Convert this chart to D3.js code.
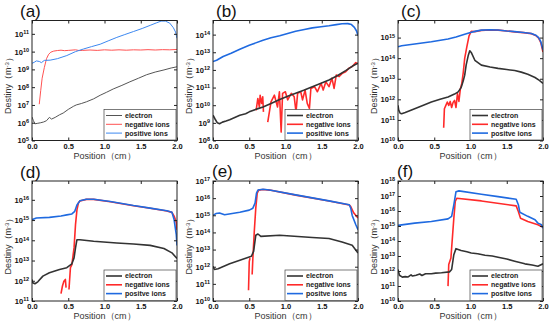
<!DOCTYPE html>
<html>
<head>
<meta charset="utf-8">
<script src="https://cdn.jsdelivr.net/npm/d3@7"></script>
<style>
  body { margin: 0; background: #fff; }
  text { font-family: "Liberation Sans", Arial, sans-serif; }
</style>
</head>
<body>
<script>
// x ticks shared by all six panels (cm)
const positionTicks = [0, 0.5, 1.0, 1.5, 2.0];

// ---- (a) ----
const aExps = [5, 6, 7, 8, 9, 10, 11];
const aNames = ["electron", "negative ions", "positive ions"];
const aElectron = [[0,2.1e6],[0.02,1.3e6],[0.04,8.7e5],[0.08,9.3e5],[0.12,1.0e6],[0.16,1.1e6],[0.2,1.3e6],[0.24,2.0e6],[0.27,1.6e6],[0.32,2.0e6],[0.38,2.8e6],[0.43,3.5e6],[0.5,5.6e6],[0.57,8.3e6],[0.61,1.0e7],[0.68,1.2e7],[0.75,1.5e7],[0.85,2.2e7],[0.94,3.5e7],[1.03,5.2e7],[1.12,7.9e7],[1.24,1.26e8],[1.35,2.0e8],[1.47,3.2e8],[1.58,5.0e8],[1.7,7.1e8],[1.82,9.3e8],[1.92,1.2e9],[2.0,1.4e9]];
const aNegative = [[0.1,1.1e7],[0.12,6.3e7],[0.14,3.2e8],[0.17,1.26e9],[0.2,4.0e9],[0.23,7.1e9],[0.26,9.3e9],[0.3,1.07e10],[0.35,1.15e10],[0.4,1.2e10],[0.45,1.13e10],[0.5,1.17e10],[0.6,1.26e10],[0.65,1.15e10],[0.7,1.17e10],[0.8,1.23e10],[0.9,1.17e10],[1.0,1.26e10],[1.1,1.2e10],[1.2,1.26e10],[1.3,1.2e10],[1.4,1.26e10],[1.5,1.23e10],[1.6,1.29e10],[1.7,1.23e10],[1.8,1.29e10],[1.9,1.26e10],[2.0,1.32e10]];
const aPositive = [[0,2.2e9],[0.03,2.5e9],[0.06,3.0e9],[0.1,2.8e9],[0.13,2.4e9],[0.17,3.2e9],[0.25,3.3e9],[0.35,4.0e9],[0.48,6.0e9],[0.6,1.0e10],[0.71,1.4e10],[0.82,1.9e10],[0.94,2.6e10],[1.05,4.0e10],[1.17,6.3e10],[1.28,9.1e10],[1.4,1.35e11],[1.52,2.0e11],[1.63,3.0e11],[1.72,4.2e11],[1.78,5.2e11],[1.84,5.2e11],[1.9,4.0e11],[1.95,2.2e11],[1.98,1.26e11],[2.0,5.6e10]];

// ---- (b) ----
const bExps = [8, 9, 10, 11, 12, 13, 14];
const bNames = ["electron", "negative ions", "positive ions"];
const bElectron = [[0,2.7e9],[0.03,1.6e9],[0.06,1.0e9],[0.09,8.9e8],[0.13,1.1e9],[0.18,1.26e9],[0.23,1.5e9],[0.3,2.0e9],[0.37,2.7e9],[0.45,3.3e9],[0.5,4.2e9],[0.6,6.0e9],[0.69,7.9e9],[0.8,1.26e10],[0.92,2.1e10],[1.03,3.2e10],[1.14,4.7e10],[1.26,7.2e10],[1.37,1.12e11],[1.49,1.74e11],[1.6,2.7e11],[1.72,4.8e11],[1.83,9.1e11],[1.92,1.6e12],[2.0,2.4e12]];
const bNegative = [[0.595,5.1e9],[0.618,2.4e10],[0.64,7.9e9],[0.65,3.7e10],[0.67,1.26e10],[0.686,3.0e10],[0.696,4.2e9],null,[0.755,1.1e9],[0.8,1.55e10],[0.847,3.7e10],[0.89,7.9e9],[0.916,5.8e10],[0.94,3.0e8],[0.96,4.7e10],[0.998,5.8e10],[1.03,2.0e10],[1.08,4.7e10],[1.12,3.0e10],[1.145,4.2e9],[1.167,4.7e10],[1.21,5.8e10],[1.235,2.0e10],[1.27,7.2e10],[1.3,1.26e10],[1.33,6.5e9],[1.35,8.9e10],[1.4,1.12e11],[1.44,5.8e10],[1.49,1.74e11],[1.52,7.2e10],[1.557,2.1e11],[1.6,1.12e11],[1.64,3.4e11],[1.67,8.9e10],[1.7,5.1e11],[1.74,4.2e11],[1.785,6.5e11],[1.83,7.9e11],[1.876,1.26e12],[1.92,1.55e12],[1.97,2.6e12],[2.0,2.2e12]];
const bPositive = [[0,3.0e12],[0.05,3.5e12],[0.14,5.8e12],[0.25,8.9e12],[0.37,1.5e13],[0.5,2.5e13],[0.69,4.8e13],[0.8,6.6e13],[0.92,8.7e13],[1.03,1.17e14],[1.14,1.55e14],[1.26,1.95e14],[1.37,2.4e14],[1.49,2.8e14],[1.6,3.2e14],[1.7,3.7e14],[1.78,4.1e14],[1.86,4.2e14],[1.91,3.7e14],[1.95,2.6e14],[1.98,1.6e14],[2.0,8.9e13]];

// ---- (c) ----
const cExps = [10, 11, 12, 13, 14, 15];
const cNames = ["electron", "negative ions", "positve ions"];
const cElectron = [[0,5.1e11],[0.01,3.0e11],[0.03,2.1e11],[0.05,2.0e11],[0.1,2.3e11],[0.23,3.5e11],[0.35,5.2e11],[0.46,7.4e11],[0.58,1.0e12],[0.69,1.3e12],[0.78,1.8e12],[0.83,2.3e12],[0.87,3.7e12],[0.9,7.9e12],[0.92,1.5e13],[0.94,4.6e13],[0.97,1.4e14],[0.99,2.3e14],[1.01,1.9e14],[1.06,7.9e13],[1.15,4.6e13],[1.27,3.7e13],[1.38,3.2e13],[1.5,2.8e13],[1.61,2.5e13],[1.7,2.1e13],[1.79,1.66e13],[1.89,1.15e13],[1.95,8.3e12],[2.0,5.9e12]];
const cNegative = [[0.63,4.2e10],[0.64,3.5e11],[0.66,5.1e11],[0.68,7.4e11],[0.7,5.1e11],[0.72,7.9e11],[0.74,4.0e11],[0.76,7.1e11],[0.78,8.9e11],[0.8,4.0e11],[0.82,1.9e12],[0.84,7.9e11],[0.86,3.2e12],[0.88,5.9e12],[0.9,2.0e13],[0.92,9.8e13],[0.95,3.6e14],[0.98,1.2e15],[1.01,2.0e15],[1.06,1.95e15],[1.15,2.24e15],[1.27,2.35e15],[1.38,2.3e15],[1.5,2.1e15],[1.61,1.9e15],[1.73,1.74e15],[1.84,1.55e15],[1.9,1.26e15],[1.94,9.5e14],[1.97,5.6e14],[2.0,2.0e14]];
const cPositive = [[0,3.6e14],[0.05,4.0e14],[0.23,4.9e14],[0.46,6.3e14],[0.69,8.5e14],[0.8,1.07e15],[0.92,1.45e15],[1.0,1.78e15],[1.06,2.0e15],[1.15,2.3e15],[1.27,2.4e15],[1.38,2.35e15],[1.5,2.1e15],[1.61,1.95e15],[1.73,1.78e15],[1.84,1.58e15],[1.9,1.3e15],[1.94,1.0e15],[1.97,6.3e14],[2.0,2.5e14]];

// ---- (d) ----
const dExps = [11, 12, 13, 14, 15, 16];
const dNames = ["electron", "negative ions", "positve ions"];
const dElectron = [[0,1.17e12],[0.01,7.9e11],[0.04,7.1e11],[0.08,8.9e11],[0.15,1.7e12],[0.24,2.5e12],[0.38,3.6e12],[0.48,4.4e12],[0.55,6.9e12],[0.58,1.35e13],[0.6,4.2e13],[0.62,1.07e14],[0.66,1.07e14],[0.85,8.9e13],[1.17,7.4e13],[1.4,6.6e13],[1.63,5.6e13],[1.82,3.9e13],[1.93,2.4e13],[2.0,1.26e13]];
const dNegative = [[0.4,2.3e11],[0.42,5.5e11],[0.44,9.5e11],[0.46,1.17e12],[0.47,4.6e11],null,[0.51,3.7e11],[0.53,4.4e12],[0.55,6.3e12],[0.58,4.2e13],[0.6,5.9e14],[0.62,3.2e15],[0.64,6.9e15],[0.66,8.7e15],[0.75,1.05e16],[0.85,1.05e16],[1.08,8.1e15],[1.4,5.1e15],[1.63,3.8e15],[1.86,2.8e15],[1.93,2.4e15],[1.96,1.58e15],[1.99,7.9e14],[2.0,3.2e14]];
const dPositive = [[0,1.05e15],[0.06,1.26e15],[0.24,1.35e15],[0.4,1.58e15],[0.48,1.8e15],[0.55,2.0e15],[0.59,2.7e15],[0.62,5.6e15],[0.66,8.9e15],[0.75,1.07e16],[0.85,1.07e16],[1.08,8.3e15],[1.4,5.2e15],[1.63,3.9e15],[1.86,2.9e15],[1.93,2.45e15],[1.96,1.05e15],[1.99,1.9e14],[2.0,5.6e13]];

// ---- (e) ----
const eExps = [10, 11, 12, 13, 14, 15, 16, 17];
const eNames = ["electron", "negative ions", "positve ions"];
const eElectron = [[0,1.07e12],[0.02,6.9e11],[0.07,7.6e11],[0.23,1.48e12],[0.46,3.2e12],[0.53,4.1e12],[0.56,7.9e12],[0.59,6.8e13],[0.62,8.1e13],[0.66,5.9e13],[0.92,6.8e13],[1.37,5.1e13],[1.6,4.4e13],[1.78,2.75e13],[1.92,1.78e13],[2.0,6.3e12]];
const eNegative = [[0.49,4.2e10],[0.5,2.0e12],[0.51,3.2e12],null,[0.54,3.5e11],[0.55,3.2e12],[0.57,1.26e14],[0.59,2.6e15],[0.61,1.95e16],[0.63,2.95e16],[0.69,3.2e16],[0.78,2.95e16],[1.14,1.5e16],[1.6,6.8e15],[1.88,4.0e15],[1.9,3.2e15],[1.94,1.4e15],[2.0,6.9e14]];
const ePositive = [[0,9.8e14],[0.04,1.26e15],[0.09,1.35e15],[0.16,1.07e15],[0.37,1.5e15],[0.5,2.0e15],[0.55,2.6e15],[0.58,5.1e15],[0.6,1.95e16],[0.62,3.0e16],[0.69,3.3e16],[0.78,3.0e16],[1.14,1.55e16],[1.6,6.9e15],[1.88,4.1e15],[1.9,2.6e15],[1.92,9.8e14],[1.97,2.8e14],[2.0,1.45e14]];

// ---- (f) ----
const fExps = [10, 11, 12, 13, 14, 15, 16, 17, 18];
const fNames = ["electron", "negative ions", "positve ions"];
const fElectron = [[0,1.26e12],[0.02,5.2e11],[0.06,3.9e11],[0.1,4.2e11],[0.14,4.0e11],[0.18,5.6e11],[0.2,4.6e11],[0.25,5.2e11],[0.3,6.3e11],[0.33,5.0e11],[0.38,6.6e11],[0.46,6.5e11],[0.52,7.2e11],[0.6,7.6e11],[0.71,8.7e11],[0.74,1.26e12],[0.77,1.23e13],[0.8,3.1e13],[0.87,2.3e13],[0.95,1.9e13],[1.01,1.58e13],[1.1,1.41e13],[1.2,1.12e13],[1.3,1.0e13],[1.38,8.3e12],[1.5,6.3e12],[1.61,4.5e12],[1.75,3.0e12],[1.85,2.5e12],[1.93,2.1e12],[2.0,3.0e12]];
const fNegative = [[0.69,9.8e10],[0.7,2.7e12],[0.73,7.4e12],[0.74,3.5e13],[0.77,3.3e15],[0.79,4.3e16],[0.81,7.1e16],[1.15,4.7e16],[1.63,2.2e16],[1.66,9.3e15],[1.69,3.3e15],[1.79,2.0e15],[1.93,1.2e15],[2.0,8.1e14]];
const fPositive = [[0,1.1e15],[0.23,1.55e15],[0.46,2.0e15],[0.69,3.0e15],[0.74,4.4e15],[0.77,2.6e16],[0.8,1.95e17],[0.84,2.2e17],[1.15,1.3e17],[1.38,9.1e16],[1.63,6.0e16],[1.66,2.6e16],[1.68,8.3e15],[1.79,4.4e15],[1.89,2.6e15],[1.93,1.55e15],[1.98,1.2e15],[2.0,7.2e14]];

// layout of the six panels (pixel positions only)
const panels = [
  { label: "(a)", lx: 20,  ly: 17,  left: 32,  top: 20.5, yTop: 11.75, exps: aExps, names: aNames, data: [aElectron, aNegative, aPositive], thin: true },
  { label: "(b)", lx: 216, ly: 17,  left: 213, top: 20.5, yTop: 14.8,  exps: bExps, names: bNames, data: [bElectron, bNegative, bPositive] },
  { label: "(c)", lx: 401, ly: 17,  left: 398, top: 20.5, yTop: 15.83, exps: cExps, names: cNames, data: [cElectron, cNegative, cPositive] },
  { label: "(d)", lx: 20,  ly: 178, left: 32,  top: 181,  yTop: 16.93, exps: dExps, names: dNames, data: [dElectron, dNegative, dPositive] },
  { label: "(e)", lx: 212, ly: 177, left: 213, top: 181,  yTop: 17,    exps: eExps, names: eNames, data: [eElectron, eNegative, ePositive] },
  { label: "(f)", lx: 397, ly: 177, left: 398, top: 181,  yTop: 18,    exps: fExps, names: fNames, data: [fElectron, fNegative, fPositive] }
];

const W = 145, H = 120;
const colors = ["#333333", "#ff2a2a", "#1f6ae0"];
const thinColors = ["#555555", "#ff5252", "#3d88f0"];

const svg = d3.select("body").append("svg")
    .attr("width", 550)
    .attr("height", 322);

panels.forEach(p => {
  const g = svg.append("g").attr("transform", `translate(${p.left},${p.top})`);

  const x = d3.scaleLinear().domain([0, 2]).range([0, W]);
  const y = d3.scaleLog().domain([Math.pow(10, p.exps[0]), Math.pow(10, p.yTop)]).range([H, 0]);

  const line = d3.line()
      .defined(d => d != null)
      .x(d => x(d[0]))
      .y(d => y(d[1]));

  g.append("defs").append("clipPath").attr("id", "clip" + p.label[1])
    .append("rect").attr("width", W).attr("height", H);

  // curves
  const curves = g.append("g").attr("clip-path", `url(#clip${p.label[1]})`);
  [1, 0, 2].forEach(i => {
    curves.append("path")
        .datum(p.data[i])
        .attr("d", line)
        .attr("fill", "none")
        .attr("stroke", p.thin ? thinColors[i] : colors[i])
        .attr("stroke-width", p.thin ? 1 : 1.6)
        .attr("stroke-linejoin", "round");
  });

  // axes
  const xAxis = g.append("g").attr("transform", `translate(0,${H})`)
      .call(d3.axisBottom(x).tickValues(positionTicks).tickSize(-3).tickPadding(3).tickFormat(d3.format(".1f")));
  g.append("g").call(d3.axisTop(x).tickValues(positionTicks).tickSize(-3).tickFormat(""));
  const yVals = p.exps.map(e => Math.pow(10, e));
  const yAxis = g.append("g")
      .call(d3.axisLeft(y).tickValues(yVals).tickSize(-3).tickPadding(3).tickFormat(""));
  g.append("g").attr("transform", `translate(${W},0)`)
      .call(d3.axisRight(y).tickValues(yVals).tickSize(-3).tickFormat(""));

  g.selectAll(".domain").remove();
  g.selectAll(".tick line").attr("stroke", "#222");
  xAxis.selectAll("text")
      .attr("font-size", 7.5)
      .attr("font-weight", "bold")
      .attr("fill", "#111");

  yAxis.selectAll(".tick").each(function(d) {
    const t = d3.select(this).select("text")
        .attr("x", -3)
        .attr("dy", "0.32em")
        .attr("font-size", 7.5)
        .attr("font-weight", "bold")
        .attr("fill", "#111")
        .attr("text-anchor", "end");
    t.text("10");
    t.append("tspan").attr("dy", "-0.45em").attr("font-size", 5.5).text(Math.round(Math.log10(d)));
  });

  // frame
  g.append("rect")
      .attr("width", W).attr("height", H)
      .attr("fill", "none").attr("stroke", "#222").attr("stroke-width", 1);

  // axis titles
  g.append("text")
      .attr("x", W / 2).attr("y", H + 18)
      .attr("text-anchor", "middle")
      .attr("font-size", 9)
      .attr("fill", "#333")
      .text("Position（cm）");

  const yt = g.append("text")
      .attr("transform", `translate(-21,${H / 2 + 3}) rotate(-90)`)
      .attr("text-anchor", "middle")
      .attr("font-size", 9)
      .attr("fill", "#333");
  yt.append("tspan").text("Destiny（m");
  yt.append("tspan").attr("dy", "-0.4em").attr("font-size", 6).text("-3");
  yt.append("tspan").attr("dy", "0.4em").text("）");

  // panel label
  svg.append("text")
      .attr("x", p.lx).attr("y", p.ly)
      .attr("font-size", 17)
      .attr("fill", "#111")
      .text(p.label);

  // legend
  const lg = g.append("g").attr("transform", `translate(${W - 73},${H - 31})`);
  lg.append("rect")
      .attr("width", 72).attr("height", 30.5)
      .attr("fill", "#fff").attr("stroke", "#444").attr("stroke-width", 0.7);
  p.names.forEach((n, i) => {
    const yy = 6 + i * 8.8;
    lg.append("line")
        .attr("x1", 2).attr("x2", 18).attr("y1", yy).attr("y2", yy)
        .attr("stroke", p.thin ? thinColors[i] : colors[i])
        .attr("stroke-width", p.thin ? 1 : 1.6);
    lg.append("text")
        .attr("x", 21).attr("y", yy).attr("dy", "0.35em")
        .attr("font-size", 7)
        .attr("font-weight", "bold")
        .attr("fill", "#222")
        .text(n);
  });
});
</script>
</body>
</html>
